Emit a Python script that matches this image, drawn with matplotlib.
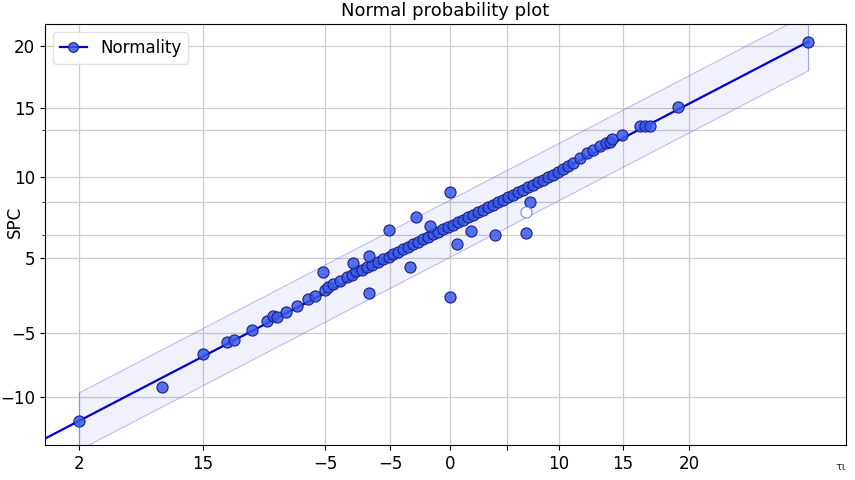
import matplotlib
matplotlib.use("Agg")
import matplotlib.pyplot as plt
import numpy as np

# theoretical quantile (x) and ordered sample (y) - points close to the fit line
line_x = [-37.1, -28.8, -24.7, -22.3, -21.6, -19.8, -18.3, -17.7, -17.3, -16.4,
          -15.3, -14.2, -13.5, -12.5, -12.2, -11.7, -11.0, -10.3, -9.8, -9.4,
          -8.8, -8.3, -7.8, -7.2, -6.7, -6.1, -5.7, -5.2, -4.7, -4.2,
          -3.7, -3.2, -2.7, -2.2, -1.7, -1.2, -0.7, -0.2, 0.3, 0.8,
          1.3, 1.8, 2.3, 2.8, 3.3, 3.8, 4.3, 4.8, 5.3, 5.8,
          6.3, 6.8, 7.3, 7.8, 8.3, 8.8, 9.3, 9.8, 10.3, 10.8,
          11.3, 11.8, 12.3, 13.0, 13.7, 14.3, 15.0, 15.6, 16.0, 16.2,
          17.2, 19.0, 19.5, 20.0, 22.8, 35.8]
line_y = [-37.1, -30.6, -24.2, -21.9, -21.5, -19.6, -17.9, -16.9, -17.1, -16.2,
          -15.0, -13.7, -13.1, -11.9, -11.3, -10.8, -10.2, -9.4, -9.0, -8.3,
          -8.1, -7.5, -7.1, -6.5, -6.0, -5.6, -5.0, -4.6, -4.0, -3.7,
          -3.1, -2.7, -2.1, -1.7, -1.2, -0.8, -0.2, 0.2, 0.6, 1.2,
          1.5, 2.1, 2.5, 3.1, 3.5, 4.0, 4.4, 5.0, 5.4, 6.0,
          6.3, 6.9, 7.3, 7.9, 8.3, 8.8, 9.2, 9.8, 10.2, 10.8,
          11.3, 11.9, 12.5, 13.5, 14.4, 15.0, 15.8, 16.3, 16.5, 17.1,
          17.9, 19.6, 19.6, 19.6, 23.3, 35.8]

# points off the line
off_x = [-12.7, -9.7, -8.1, -8.1, -6.1, -4.0, -3.4, -2.0, 0.0, 0.0, 0.7, 2.1, 4.5, 7.6, 8.0]
off_y = [-8.5, -6.7, -5.4, -12.5, -0.4, -7.5, 2.1, 0.4, 6.9, -13.3, -3.1, -0.6, -1.3, -1.0, 5.0]

# hollow point
hollow_x = [7.6]
hollow_y = [3.1]

# band half-width around fitted line
band_half = 5.5

# tick positions & labels
xtick_pos = [-37.1, -24.7, -12.5, -6.0, 0.0, 5.7, 10.9, 17.3, 23.9]
xtick_lab = ["2", "15", "\u22125", "\u22125", "0", "", "10", "15", "20"]
ytick_pos = [35.0, 23.08, 9.81, -5.77, -20.19, -32.5]
ytick_lab = ["20", "15", "10", "5", "\u22125", "\u221210"]
yminor_pos = [18.85, 5.0, -1.35]

xlim = (-40.5, 39.6)
ylim = (-41.73, 39.23)

fig = plt.figure(figsize=(8.55, 4.8), dpi=100)
ax = fig.add_axes([45/855, 1-445/480, (846-45)/855, (445-24)/480])

ax.set_xlim(*xlim)
ax.set_ylim(*ylim)

# band
bx = np.array([min(line_x), max(line_x)])
ax.fill_between(bx, bx - band_half, bx + band_half, facecolor=(0.4, 0.4, 0.95, 0.09),
                edgecolor=(0.4, 0.4, 0.85, 0.4), linewidth=0.8, zorder=1)
ax.plot([bx[0], bx[0]], [bx[0]-band_half, bx[0]+band_half], color=(0.4, 0.4, 0.85, 0.3), lw=0.8, zorder=1)
ax.plot([bx[1], bx[1]], [bx[1]-band_half, bx[1]+band_half], color=(0.4, 0.4, 0.85, 0.3), lw=0.8, zorder=1)

# fit line
lx = np.array([xlim[0], max(line_x)])
ax.plot(lx, lx, color="#0000cc", lw=1.6, zorder=3)

mk = dict(marker="o", linestyle="none", markersize=8, markerfacecolor=(0.22, 0.35, 0.93, 0.85),
          markeredgecolor="#1a1f80", markeredgewidth=0.8, zorder=4)
ax.plot(line_x, line_y, **mk)
ax.plot(off_x, off_y, **mk)
ax.plot(hollow_x, hollow_y, marker="o", linestyle="none", markersize=8, markerfacecolor="white",
        markeredgecolor=(0.35, 0.45, 0.95, 0.8), markeredgewidth=0.8, zorder=4)

# legend handle
ax.plot([], [], color="#0000cc", lw=1.6, marker="o", markersize=7,
        markerfacecolor=(0.22, 0.35, 0.93, 0.85), markeredgecolor="#1a1f80",
        markeredgewidth=0.8, label="Normality")
ax.legend(loc="upper left", fontsize=12, framealpha=0.9, edgecolor="#dddddd",
          borderpad=0.4, handlelength=1.6)

ax.set_xticks(xtick_pos)
ax.set_xticklabels(xtick_lab, fontsize=12)
ax.set_yticks(ytick_pos)
ax.set_yticklabels(ytick_lab, fontsize=12)
ax.set_yticks(yminor_pos, minor=True)
ax.tick_params(axis="y", which="minor", length=2)
ax.grid(True, which="both", color="#cccccc", lw=0.9, zorder=0)
ax.set_axisbelow(True)

ax.set_title("Normal probability plot", fontsize=13)
ax.set_ylabel("SPC", fontsize=12)
ax.yaxis.set_label_coords(-0.026, 0.53)
fig.text(841/855, 1-467/480, "\u03c4\u03b9", fontsize=8, ha="center", va="center", color="#333333")

fig.savefig("out.png", dpi=100)
